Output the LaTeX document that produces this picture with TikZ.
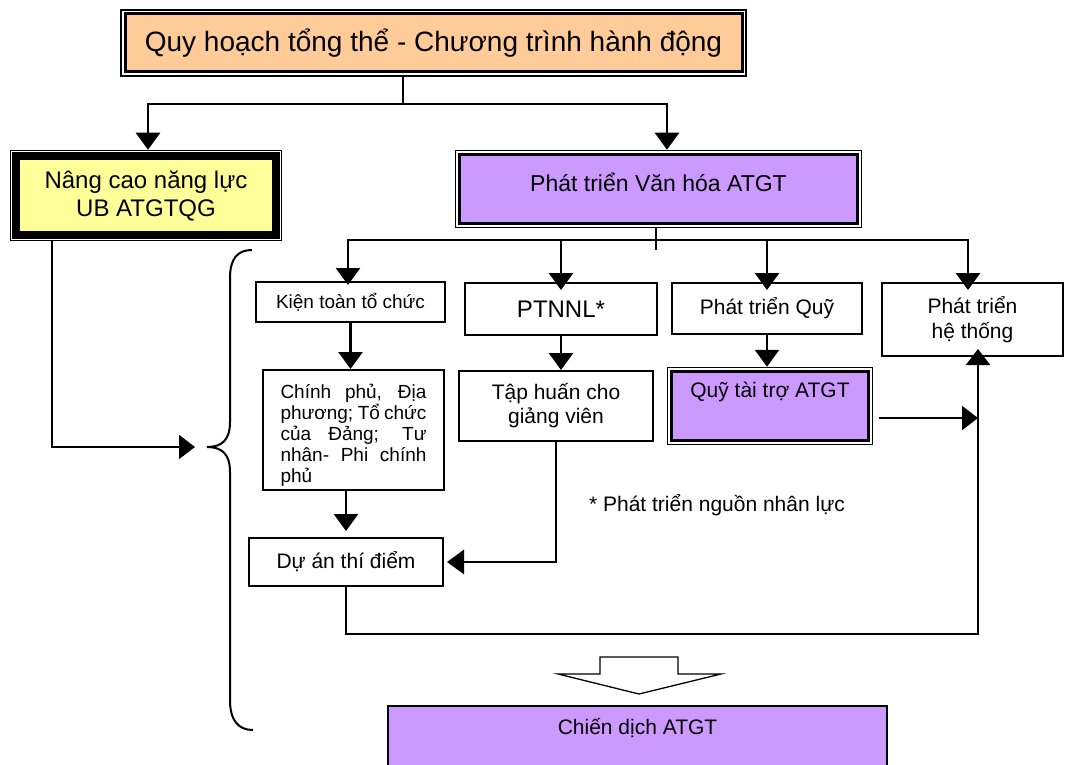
\documentclass[tikz,border=0pt]{standalone}
\usepackage{fontspec}
\setmainfont{Liberation Sans}
\usetikzlibrary{arrows.meta,fit,calc}
\definecolor{peach}{HTML}{FFCC99}
\definecolor{lyellow}{HTML}{FFFF99}
\definecolor{lpurple}{HTML}{CC99FF}
\begin{document}
\begin{tikzpicture}[x=1pt,y=-1pt,
  box/.style={draw, line width=2pt, fill=white, inner sep=2pt, align=center},
  frame/.style={draw, line width=1.5pt, inner sep=2.5pt},
  conn/.style={line width=2.8pt},
  arr/.style={line width=2.8pt, -{Triangle[width=24pt,length=17pt]}},
  tarr/.style={line width=2pt, -{Triangle[width=24pt,length=16pt]}},
  fa/.style={font=\fontsize{21pt}{25pt}\selectfont}
]
\useasboundingbox (0,0) rectangle (1069,765);
% boxes
\node[box, fill=peach, line width=3pt, minimum width=617pt, minimum height=58pt,
      font=\fontsize{28pt}{33pt}\selectfont] (title) at (433.5,43) {Quy hoạch tổng thể - Chương trình hành động};
\node[frame, fit=(title)] (titleF) {};

\node[box, fill=lyellow, line width=8pt, minimum width=260pt, minimum height=79pt,
      font=\fontsize{24pt}{28pt}\selectfont] (nang) at (146,195.5) {Nâng cao năng lực\\UB ATGTQG};
\node[frame, inner sep=1.5pt, fit=(nang)] (nangF) {};

\node[box, fill=lpurple, line width=3pt, minimum width=398pt, minimum height=69pt] (vh) at (658.5,189) {};
\node[frame, fit=(vh)] (vhF) {};
\node[font=\fontsize{23pt}{27pt}\selectfont] (vhT) at (658.5,182) {Phát triển Văn hóa ATGT};

\node[box, minimum width=189pt, minimum height=40pt, font=\fontsize{19pt}{23pt}\selectfont] (kt) at (350.5,302) {Kiện toàn tổ chức};
\node[box, minimum width=192pt, minimum height=52pt, font=\fontsize{24pt}{28pt}\selectfont] (pt) at (561,309) {PTNNL*};
\node[box, minimum width=190pt, minimum height=51pt, fa] (pq) at (767,308.5) {Phát triển Quỹ};
\node[box, minimum width=181pt, minimum height=73pt, fa] (ht) at (972.5,319.5) {Phát triển\\hệ thống};

\node[box, minimum width=181pt, minimum height=120pt] (cp) at (353.5,430) {};
\node[align=left, font=\fontsize{19pt}{21pt}\selectfont] (cpT) at (353.5,435)
  {\makebox[146pt][s]{Chính phủ, Địa}\\\makebox[146pt][s]{phương; Tổ chức}\\\makebox[146pt][s]{của Đảng; Tư}\\\makebox[146pt][s]{nhân- Phi chính}\\phủ};
\node[box, minimum width=194pt, minimum height=70pt, font=\fontsize{21pt}{24pt}\selectfont] (th) at (556,406) {Tập huấn cho\\giảng viên};

\node[box, fill=lpurple, line width=3pt, minimum width=197pt, minimum height=69pt] (qt) at (770,406) {};
\node[frame, fit=(qt)] (qtF) {};
\node[fa] (qtT) at (770,392) {Quỹ tài trợ ATGT};

\node[box, minimum width=194pt, minimum height=48pt, fa] (da) at (346,562) {Dự án thí điểm};
\node[fa] (fn) at (717,505) {* Phát triển nguồn nhân lực};

\node[box, fill=lpurple, line width=1.5pt, minimum width=499pt, minimum height=84pt] (cd) at (637.5,748) {};
\node[fa] (cdT) at (637.5,728) {Chiến dịch ATGT};

% connectors top
\coordinate (j1) at (403,104);
\draw[conn] (titleF.south -| j1) -- (j1);
\draw[arr] (j1) -| ([xshift=2pt]nangF.north);
\draw[arr] (j1) -| ([xshift=8.5pt]vhF.north);

\coordinate (j2) at (656,240);
\draw[conn] (vhF.south -| j2) -- ([yshift=-10pt]j2);
\draw[arr, shorten >=-4pt] (j2) -| ([xshift=-2.5pt]kt.north);
\draw[arr, shorten >=-8pt] (j2) -| (pt.north);
\draw[arr, shorten >=-8pt] (j2) -| (pq.north);
\draw[arr, shorten >=-8pt] (j2) -| ([xshift=-4.5pt]ht.north);

\draw[arr] (kt.south) -- (kt.south |- cp.north);
\draw[arr] (pt.south) -- (pt.south |- th.north);
\draw[arr] (pq.south) -- (pq.south |- qtF.north);
\draw[arr] (da.north |- cp.south) -- ([yshift=6pt]da.north);
\draw[arr] (th.south) |- ([xshift=3pt]da.east);

\coordinate (v) at (978,634);
\draw[tarr, line width=2.2pt, shorten >=-8pt] (da.south) |- (v) -- (v |- ht.south);
\draw[tarr] ([shift={(6pt,-12pt)}]qtF.east) -- ([yshift=-12pt]qtF.east -| v);

\coordinate (bt) at (195,447);
\draw[tarr, line width=1.8pt] ([xshift=-94pt]nangF.south) |- (bt);

% brace
\draw[line width=2pt] (252,250) .. controls (238,250) and (230,258) .. (230,278) -- (230,422)
   .. controls (230,440) and (222,447) .. (207,447)
   .. controls (222,447) and (230,454) .. (230,472) -- (230,700)
   .. controls (230,720) and (238,730) .. (253,730);

% block arrow
\draw[line width=1.3pt, fill=white] (600,657) -- (678,657) -- (678,674) -- (721,674) -- (639,694)
   -- (558,674) -- (600,674) -- cycle;
\end{tikzpicture}
\end{document}
